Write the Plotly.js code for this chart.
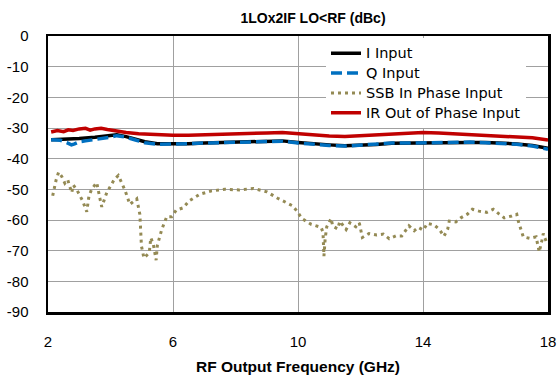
<!DOCTYPE html>
<html>
<head>
<meta charset="utf-8">
<script src="https://cdn.plot.ly/plotly-3.0.1.min.js"></script>
<style>html,body{margin:0;padding:0;background:#fff;}#chart{width:557px;height:375px;}</style>
</head>
<body>
<div id="chart"></div>
<script>
// Series names
const seriesNames = ["I Input", "Q Input", "SSB In Phase Input", "IR Out of Phase Input"];

// I Input
const iX = [2.1, 2.5, 3.0, 3.5, 4.0, 4.2, 4.5, 4.8, 5.1, 5.5, 6.0, 6.5, 7.0, 7.5, 8.0, 8.5, 9.0, 9.5, 10.0, 10.5, 11.0, 11.5, 12.0, 12.5, 13.0, 13.5, 14.0, 14.5, 15.0, 15.5, 16.0, 16.5, 17.0, 17.5, 18.0];
const iY = [-33.8, -33.7, -33.4, -33.0, -32.4, -32.2, -32.8, -33.6, -34.5, -35.1, -35.2, -35.1, -34.9, -34.8, -34.7, -34.5, -34.3, -34.2, -34.7, -35.2, -35.5, -35.8, -35.7, -35.4, -35.0, -34.9, -34.9, -34.8, -34.7, -34.7, -34.7, -34.9, -35.2, -35.7, -36.6];

// Q Input
const qX = [2.1, 2.4, 2.6, 2.75, 2.85, 3.0, 3.2, 3.5, 4.0, 4.2, 4.5, 4.8, 5.1, 5.5, 6.0, 6.5, 7.0, 7.5, 8.0, 8.5, 9.0, 9.5, 10.0, 10.5, 11.0, 11.5, 12.0, 12.5, 13.0, 13.5, 14.0, 14.5, 15.0, 15.5, 16.0, 16.5, 17.0, 17.5, 18.0];
const qY = [-33.8, -34.0, -34.8, -35.5, -35.2, -34.5, -34.2, -33.8, -33.0, -32.5, -33.0, -33.9, -34.8, -35.3, -35.3, -35.1, -34.9, -34.8, -34.7, -34.5, -34.3, -34.3, -34.9, -35.4, -35.7, -35.9, -35.6, -35.2, -34.9, -34.9, -34.8, -34.7, -34.6, -34.6, -34.8, -35.0, -35.3, -35.9, -36.9];

// SSB In Phase Input
const sX = [2.15, 2.26, 2.34, 2.44, 2.54, 2.63, 2.76, 2.81, 2.94, 3.11, 3.24, 3.31, 3.40, 3.56, 3.66, 3.72, 3.88, 4.12, 4.25, 4.46, 4.62, 4.84, 4.94, 4.99, 5.07, 5.24, 5.29, 5.37, 5.46, 5.50, 5.64, 5.80, 5.96, 6.10, 6.33, 6.51, 6.86, 7.24, 7.66, 8.12, 8.57, 9.00, 9.35, 9.83, 9.98, 10.12, 10.42, 10.74, 10.80, 10.83, 10.87, 10.92, 11.06, 11.11, 11.27, 11.34, 11.54, 11.66, 11.85, 11.96, 12.06, 12.27, 12.52, 12.73, 12.92, 13.13, 13.32, 13.45, 13.55, 13.72, 13.85, 14.01, 14.14, 14.35, 14.52, 14.67, 14.79, 14.84, 15.05, 15.21, 15.42, 15.58, 15.79, 16.04, 16.25, 16.44, 16.60, 16.84, 17.00, 17.05, 17.13, 17.21, 17.42, 17.62, 17.67, 17.72, 17.80, 17.85, 17.96];
const sY = [-52.1, -46.9, -44.4, -45.8, -48.0, -46.9, -51.1, -48.6, -50.5, -53.8, -57.3, -52.2, -49.9, -47.8, -52.9, -55.7, -51.1, -46.8, -45.5, -50.2, -54.9, -53.1, -58.2, -68.5, -72.4, -70.7, -65.8, -67.9, -73.1, -68.2, -63.1, -58.9, -58.9, -56.8, -56.0, -53.8, -51.6, -50.5, -50.0, -50.2, -49.7, -50.8, -52.9, -55.4, -57.3, -59.5, -61.4, -62.4, -64.0, -71.8, -66.0, -62.2, -59.5, -62.0, -62.9, -60.4, -63.1, -60.9, -62.2, -60.9, -65.7, -64.4, -64.9, -64.6, -66.1, -65.2, -65.2, -63.5, -61.9, -63.5, -62.4, -63.3, -61.1, -61.6, -63.0, -65.3, -63.0, -60.4, -60.6, -59.3, -58.1, -56.5, -57.1, -57.5, -56.5, -58.1, -59.3, -58.7, -58.1, -60.4, -63.0, -65.5, -66.0, -65.5, -68.0, -70.4, -66.9, -64.4, -67.5];

// IR Out of Phase Input
const rX = [2.1, 2.3, 2.5, 2.65, 2.8, 3.0, 3.2, 3.35, 3.5, 3.7, 3.9, 4.2, 4.5, 4.9, 5.5, 6.0, 6.5, 7.0, 7.5, 8.0, 8.5, 9.0, 9.5, 10.0, 10.5, 11.0, 11.5, 12.0, 12.5, 13.0, 13.5, 14.0, 14.5, 15.0, 15.5, 16.0, 16.5, 17.0, 17.5, 18.0];
const rY = [-31.3, -30.8, -31.2, -30.6, -30.8, -30.3, -30.1, -30.7, -30.3, -30.1, -30.5, -31.1, -31.5, -31.9, -32.2, -32.4, -32.4, -32.2, -32.0, -32.0, -31.8, -31.6, -31.5, -31.9, -32.3, -32.6, -32.8, -32.5, -32.2, -31.9, -31.8, -31.5, -31.6, -31.9, -32.2, -32.3, -32.6, -32.9, -33.2, -33.9];

// Axis ticks
const xTicks = [2, 6, 10, 14, 18];
const yTicks = [0, -10, -20, -30, -40, -50, -60, -70, -80, -90];

const FONT = "Liberation Sans, Arial, sans-serif";
const LEG = (s) => '<span style="font-family:DejaVu Sans;font-size:14.5px">' + s + '</span>';

const traces = [
  {x: iX, y: iY, name: LEG(seriesNames[0]), mode: "lines", line: {color: "#000000", width: 3.5}},
  {x: qX, y: qY, name: LEG(seriesNames[1]), mode: "lines", line: {color: "#0070C0", width: 3.5, dash: "11px,5px"}},
  {x: sX, y: sY, name: LEG(seriesNames[2]), mode: "lines", line: {color: "#948A54", width: 3, dash: "3px,4px"}},
  {x: rX, y: rY, name: LEG(seriesNames[3]), mode: "lines", line: {color: "#C00000", width: 3.5}}
];

const layout = {
  width: 557, height: 375,
  margin: {l: 48, r: 9, t: 36, b: 63},
  paper_bgcolor: "#ffffff", plot_bgcolor: "#ffffff",
  font: {family: FONT, size: 14, color: "#000000"},
  title: {text: "<b>1LOx2IF LO<RF (dBc)</b>", x: 0.562, xanchor: "center", xref: "container",
          y: 0.952, yanchor: "middle", yref: "container", font: {family: FONT, size: 14, color: "#000"}},
  xaxis: {
    range: [2, 18], tickvals: xTicks, ticktext: xTicks.map(String),
    showgrid: true, gridcolor: "#a0a0a0", gridwidth: 1,
    showline: true, linecolor: "#000000", linewidth: 2.5, mirror: true,
    ticks: "", ticklabelstandoff: 14, zeroline: false,
    tickfont: {family: FONT, size: 15, color: "#000"},
    title: {text: "<b>RF Output Frequency (GHz)</b>", font: {family: FONT, size: 15.5, color: "#000"}, standoff: 13}
  },
  yaxis: {
    range: [-90, 0], tickvals: yTicks, ticktext: yTicks.map(String),
    showgrid: true, gridcolor: "#a0a0a0", gridwidth: 1,
    showline: true, linecolor: "#000000", linewidth: 2.5, mirror: true,
    ticks: "", ticklabelstandoff: 14, zeroline: false,
    tickfont: {family: FONT, size: 15, color: "#000"}
  },
  legend: {
    x: 0.556, xanchor: "left", y: 0.992, yanchor: "top",
    bgcolor: "#ffffff", borderwidth: 0,
    font: {family: FONT, size: 13, color: "#000"},
    tracegroupgap: 0
  },
  showlegend: true
};

Plotly.newPlot("chart", traces, layout, {staticPlot: true, displayModeBar: false});
</script>
</body>
</html>
